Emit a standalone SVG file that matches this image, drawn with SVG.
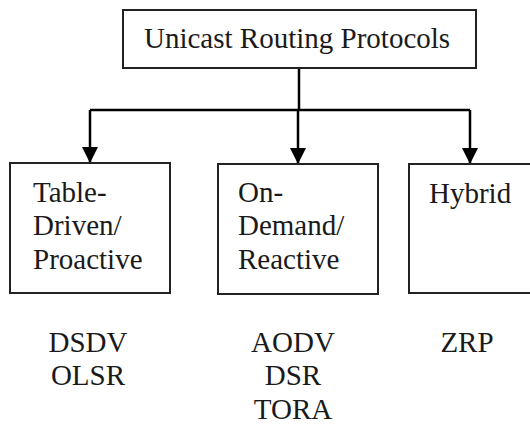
<svg xmlns="http://www.w3.org/2000/svg" width="530" height="427" viewBox="0 0 530 427">
<style>
.box{fill:#fff;stroke:#222;stroke-width:2}
text{font-family:'Liberation Serif','Times New Roman','DejaVu Serif',serif;font-size:29px;fill:#1a1a1a}
.m{text-anchor:middle}
.c{fill:none;stroke:#000;stroke-width:2.5}
</style>
<defs>
<marker id="ah" viewBox="0 0 10 10" refX="10" refY="5" markerWidth="6.4" markerHeight="6.4" markerUnits="strokeWidth" orient="auto">
<path d="M0,0 L10,5 L0,10 z" fill="#000"/>
</marker>
</defs>
<rect width="530" height="427" fill="#fff"/>
<g id="connectors">
<path class="c" d="M299,68 V110"/>
<path class="c" d="M90,110 H470"/>
<path class="c" d="M90,110 V163" marker-end="url(#ah)"/>
<path class="c" d="M298,110 V164" marker-end="url(#ah)"/>
<path class="c" d="M470,110 V164" marker-end="url(#ah)"/>
</g>
<g id="root">
<rect class="box" x="123" y="10" width="353" height="58"/>
<text x="144" y="48">Unicast Routing Protocols</text>
</g>
<g id="table-driven">
<rect class="box" x="10" y="163" width="160" height="130"/>
<text x="33" y="202">Table-</text>
<text x="33" y="235">Driven/</text>
<text x="33" y="269">Proactive</text>
</g>
<g id="on-demand">
<rect class="box" x="218" y="164" width="160" height="130"/>
<text x="238" y="202">On-</text>
<text x="238" y="235">Demand/</text>
<text x="238" y="269">Reactive</text>
</g>
<g id="hybrid">
<rect class="box" x="409" y="164" width="130" height="129"/>
<text x="429" y="203">Hybrid</text>
</g>
<g id="examples">
<text class="m" x="88" y="352">DSDV</text>
<text class="m" x="88" y="385">OLSR</text>
<text class="m" x="293" y="352">AODV</text>
<text class="m" x="293" y="385">DSR</text>
<text class="m" x="293" y="419">TORA</text>
<text class="m" x="467" y="352">ZRP</text>
</g>
</svg>
